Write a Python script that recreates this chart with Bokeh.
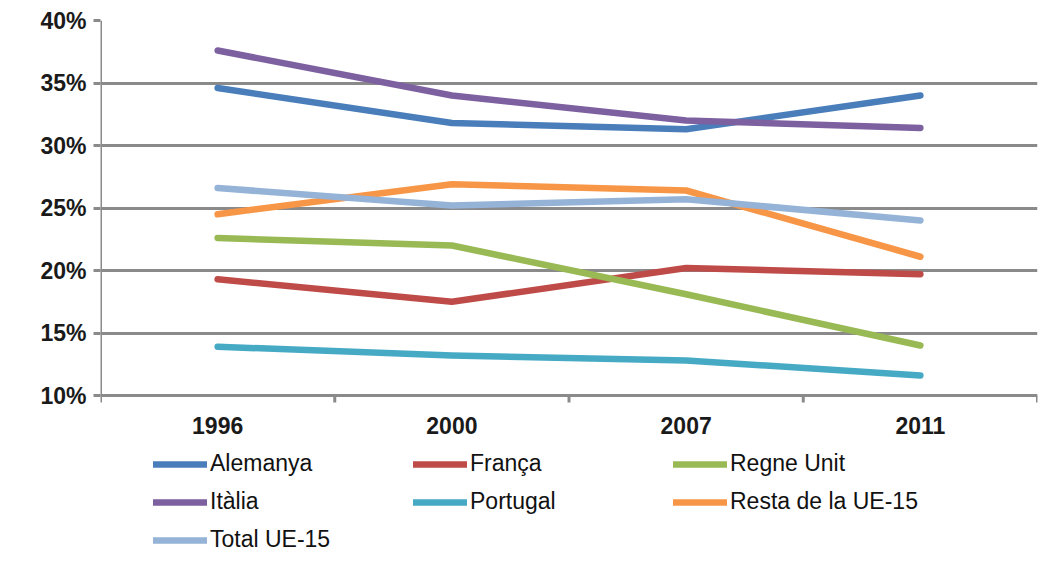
from bokeh.plotting import figure
from bokeh.models import Range1d, FixedTicker, Legend, LegendItem
from bokeh.core.properties import value
from bokeh.embed import file_html
from bokeh.resources import INLINE

years = ["1996", "2000", "2007", "2011"]
y_ticks = [10, 15, 20, 25, 30, 35, 40]
y_tick_labels = ["10%", "15%", "20%", "25%", "30%", "35%", "40%"]

alemanya = [34.6, 31.8, 31.3, 34.0]
franca = [19.3, 17.5, 20.2, 19.7]
regne_unit = [22.6, 22.0, 18.1, 14.0]
italia = [37.6, 34.0, 32.0, 31.4]
portugal = [13.9, 13.2, 12.8, 11.6]
resta_ue15 = [24.5, 26.9, 26.4, 21.1]
total_ue15 = [26.6, 25.2, 25.7, 24.0]

series = [
    ("Alemanya", alemanya, "#4A7EBB"),
    ("França", franca, "#BE4B48"),
    ("Regne Unit", regne_unit, "#98B954"),
    ("Itàlia", italia, "#7D60A0"),
    ("Portugal", portugal, "#46AAC5"),
    ("Resta de la UE-15", resta_ue15, "#F79646"),
    ("Total UE-15", total_ue15, "#95B3D7"),
]

GRAY = "#8a8a8a"
W, H = 1039, 554
TOP, LEFT, RIGHT = 20, 100, 2
AXIS_Y = 395                      # pixel row of the 10 % axis line
ymin, ymax = y_ticks[0], y_ticks[-1]
px_per_unit = (AXIS_Y - TOP) / (ymax - ymin)
y_bottom = ymin - (H - AXIS_Y) / px_per_unit   # room under the axis for labels + legend

xs = [i + 0.5 for i in range(len(years))]
bounds = list(range(len(years) + 1))

p = figure(width=W, height=H, output_backend="svg", toolbar_location=None,
           x_range=Range1d(0, len(years)), y_range=Range1d(y_bottom, ymax),
           x_axis_location=None,
           min_border_left=LEFT, min_border_right=RIGHT, min_border_top=TOP, min_border_bottom=0)
p.outline_line_color = None
p.background_fill_color = "white"
p.border_fill_color = "white"

# y grid
p.xgrid.grid_line_color = None
p.ygrid.grid_line_color = GRAY
p.ygrid.grid_line_width = 3
p.ygrid.ticker = FixedTicker(ticks=y_ticks)

# y axis (labels + ticks); axis line drawn separately so it stops at 10 %
p.yaxis.ticker = FixedTicker(ticks=y_ticks, minor_ticks=[])
p.yaxis.major_label_overrides = {t: l for t, l in zip(y_ticks, y_tick_labels)}
p.yaxis.major_tick_out = 7
p.yaxis.major_tick_in = 0
p.yaxis.major_tick_line_color = GRAY
p.yaxis.major_tick_line_width = 3
p.yaxis.minor_tick_line_color = None
p.yaxis.axis_line_color = None
p.yaxis.major_label_standoff = 7
p.yaxis.major_label_text_font = "Liberation Sans"
p.yaxis.major_label_text_font_style = "bold"
p.yaxis.major_label_text_font_size = "23px"
p.yaxis.major_label_text_color = "#1a1a1a"

p.segment(x0=[0], y0=[ymin], x1=[0], y1=[ymax], line_color=GRAY, line_width=3)

# x axis: tick marks at category boundaries, labels at category centres
tick_len = 7 / px_per_unit
p.segment(x0=bounds, y0=[ymin] * len(bounds), x1=bounds, y1=[ymin - tick_len] * len(bounds),
          line_color=GRAY, line_width=3)
p.text(x=xs, y=[ymin] * len(xs), text=years, y_offset=30,
       text_align="center", text_baseline="middle",
       text_font=value("Liberation Sans"), text_font_style="bold",
       text_font_size="23px", text_color="#1a1a1a")

renderers = {}
for name, vals, color in series:
    r = p.line(xs, vals, line_color=color, line_width=6.5, line_cap="round", line_join="round")
    renderers[name] = r

items = [LegendItem(label=name, renderers=[renderers[name]]) for name, _, _ in series]
legend = Legend(items=items, ncols=3, orientation="horizontal", location=(53, 1),
                glyph_width=54, glyph_height=26, label_width=192, label_height=26,
                label_standoff=3, spacing=11, padding=0, margin=0,
                label_text_font="Liberation Sans", label_text_font_size="23px",
                label_text_color="#111111", border_line_color=None,
                background_fill_alpha=0)
p.add_layout(legend, "center")

open("out.html", "w").write(file_html(p, INLINE))
